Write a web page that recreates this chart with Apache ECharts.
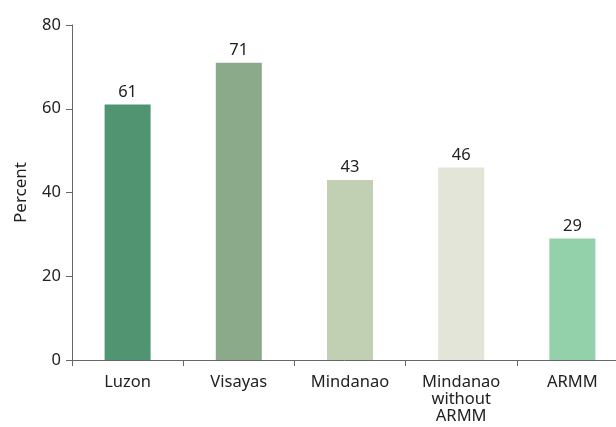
<!DOCTYPE html>
<html><head><meta charset="utf-8">
<script src="https://cdn.jsdelivr.net/npm/echarts@6/dist/echarts.min.js"></script>
<style>html,body{margin:0;padding:0;background:#fff}#c{width:616px;height:427px}</style>
</head><body><div id="c"></div>
<script>
var categories = ["Luzon", "Visayas", "Mindanao", "Mindanao\nwithout\nARMM", "ARMM"];
var values = [61, 71, 43, 46, 29];
var colors = ["#519472", "#8aaa8a", "#c1cfb3", "#e3e5d9", "#93d1aa"];
var yTicks = [0, 20, 40, 60, 80];

var chart = echarts.init(document.getElementById('c'));
var font = "'Noto Sans', sans-serif";
chart.setOption({
  animation: false,
  grid: {left: 72, width: 556, top: 25, height: 335, containLabel: false, outerBoundsMode: 'none'},
  xAxis: {
    type: 'category', data: categories,
    axisLine: {lineStyle: {color: '#666', width: 1}},
    axisTick: {show: true, length: 6, lineStyle: {color: '#666'}},
    axisLabel: {color: '#222', fontSize: 16.5, fontFamily: font, margin: 14, lineHeight: 17, interval: 0}
  },
  yAxis: {
    type: 'value', min: yTicks[0], max: yTicks[yTicks.length-1], interval: 20,
    name: 'Percent', nameLocation: 'middle', nameGap: 42,
    nameTextStyle: {color: '#222', fontSize: 17, fontFamily: font},
    axisLine: {show: true, lineStyle: {color: '#666', width: 1}},
    axisTick: {show: true, length: 6, lineStyle: {color: '#666'}},
    splitLine: {show: false},
    axisLabel: {color: '#222', fontSize: 16.5, fontFamily: font, margin: 11}
  },
  series: [{
    type: 'bar', barWidth: 46,
    data: values.map(function(v, i){ return {value: v, itemStyle: {color: colors[i]}}; }),
    label: {show: true, position: 'top', distance: 4, color: '#222', fontSize: 16.5, fontFamily: font}
  }]
});
</script></body></html>
